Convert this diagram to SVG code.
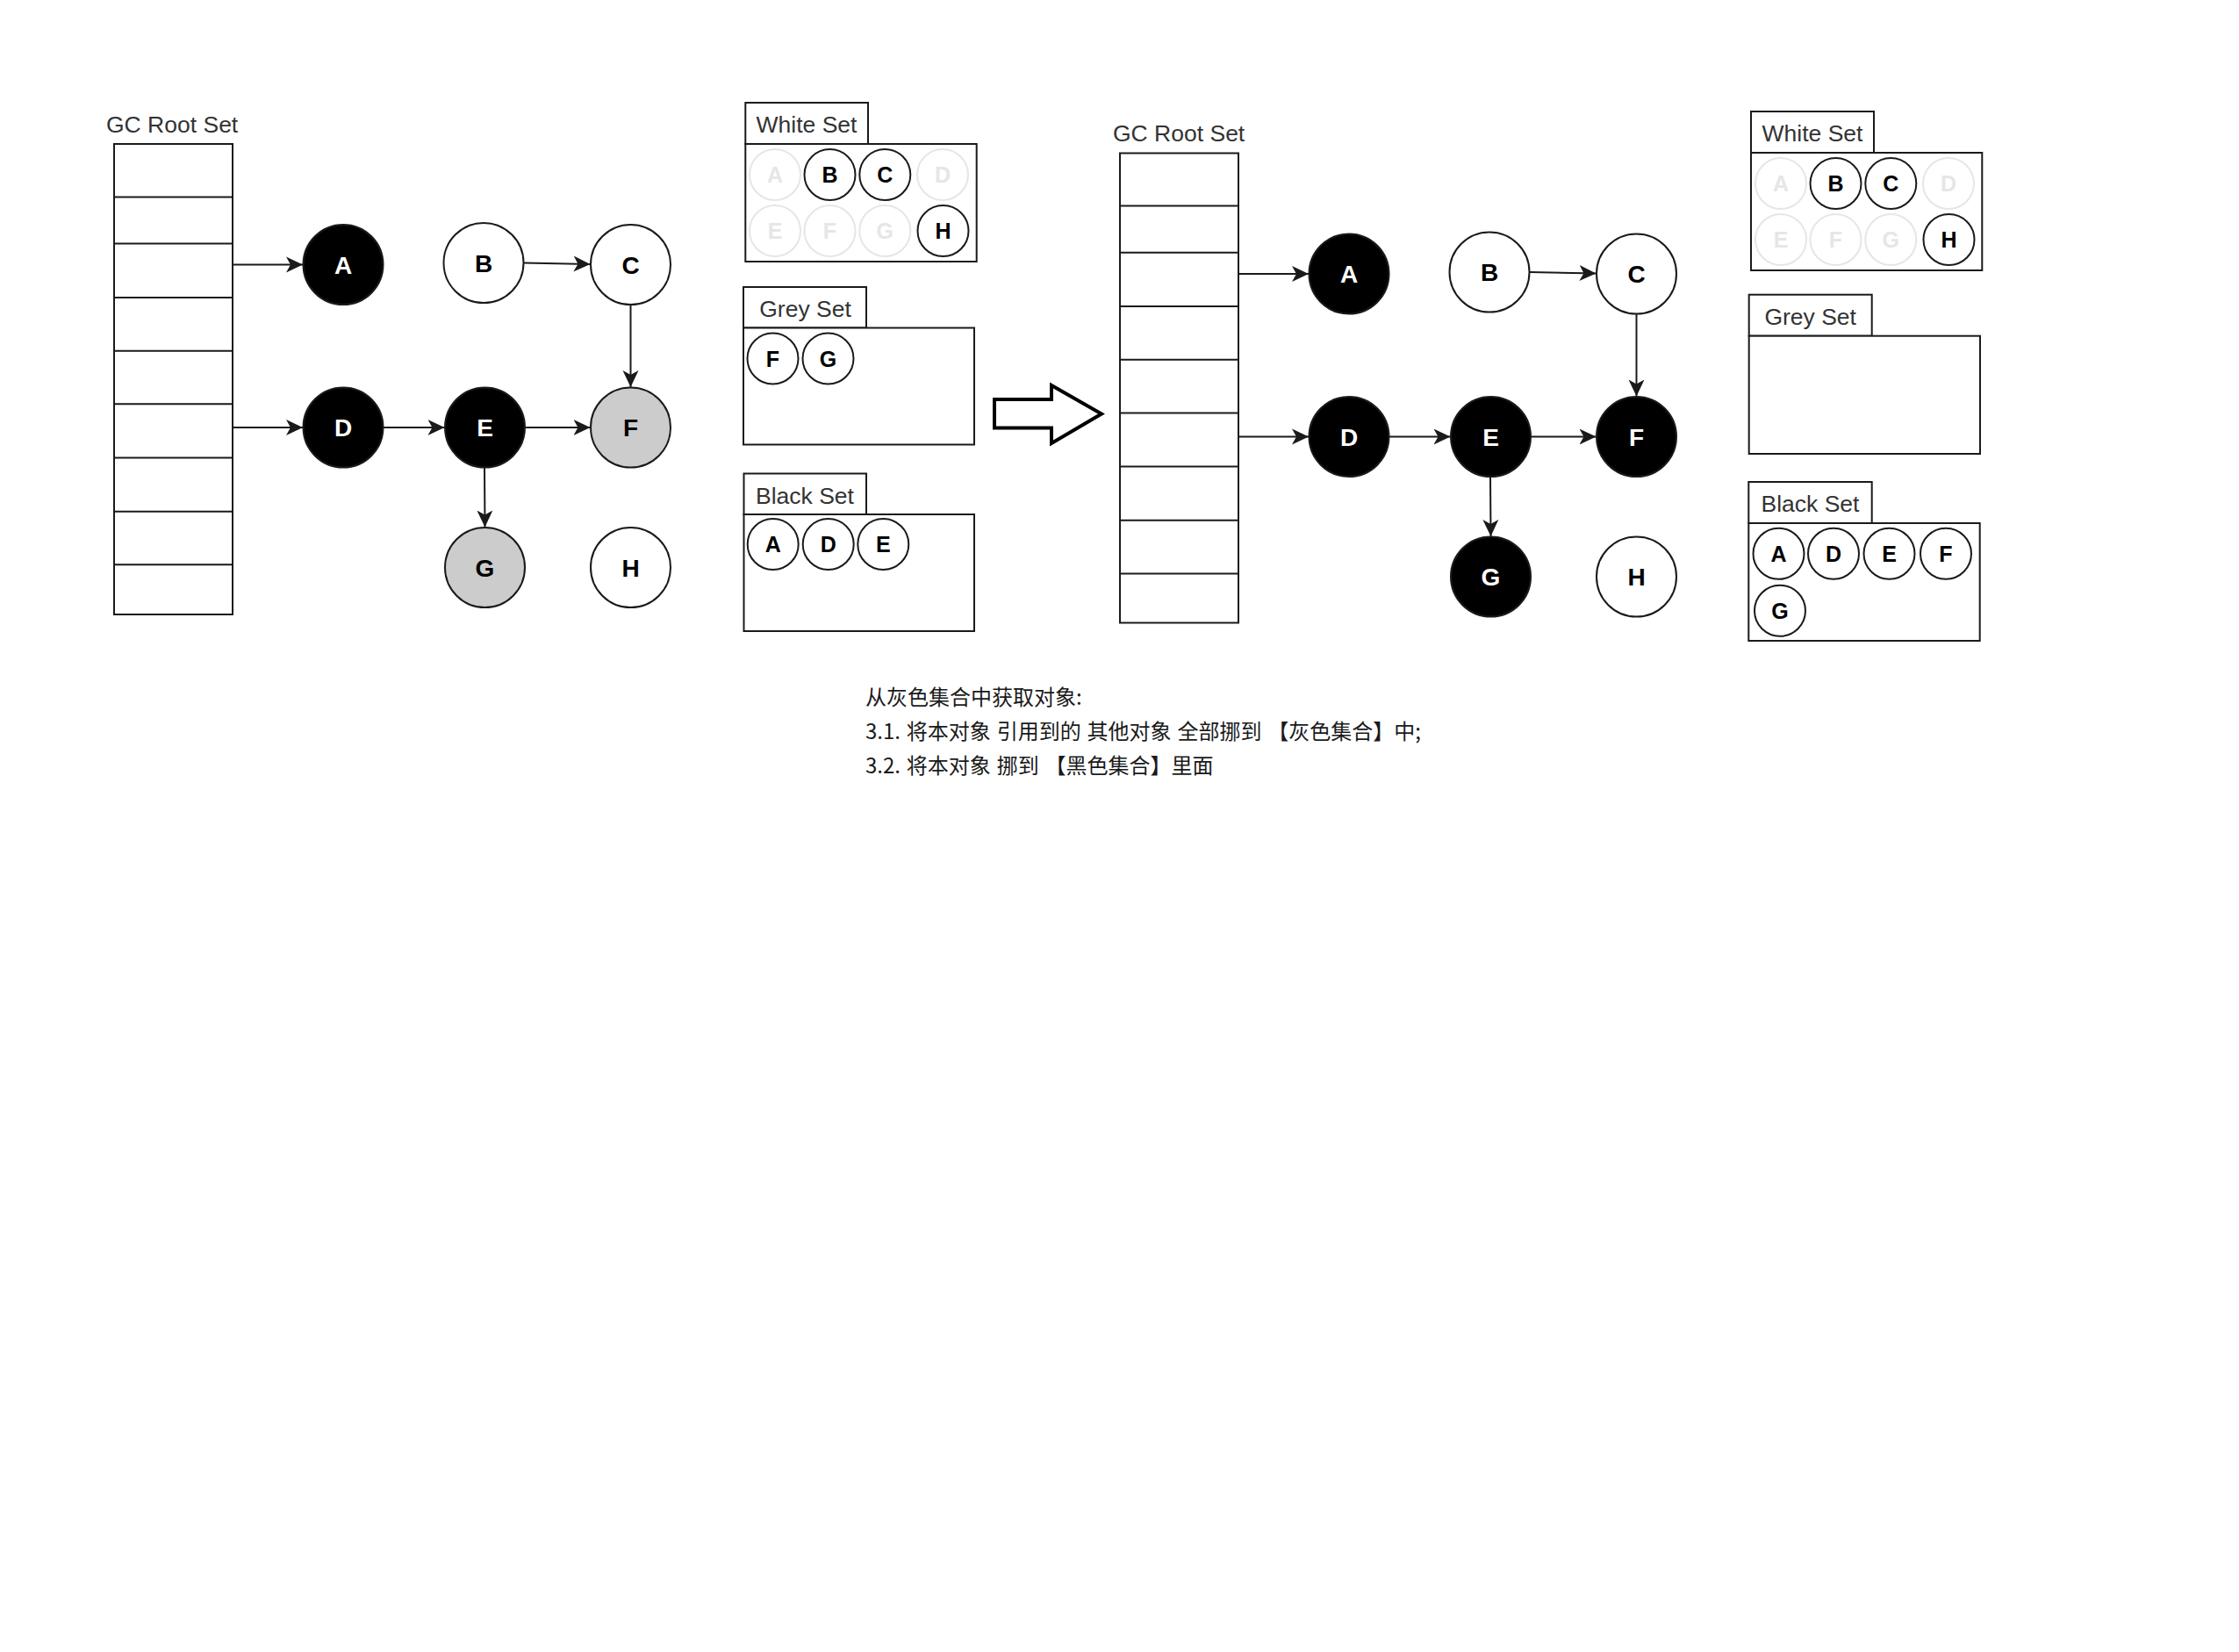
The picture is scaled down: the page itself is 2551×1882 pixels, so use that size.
<svg xmlns="http://www.w3.org/2000/svg" width="2551" height="1882" viewBox="0 0 2551 1882">
<style>
.bg{fill:#ffffff}
.box{fill:#ffffff;stroke:#1a1a1a;stroke-width:2}
.row{stroke:#1a1a1a;stroke-width:2}
.lbl{font-family:"Liberation Sans",Arial,sans-serif;font-size:26.5px;fill:#333333}
.tab{font-family:"Liberation Sans",Arial,sans-serif;font-size:26.5px;fill:#333333;text-anchor:middle}
.nb{fill:#000000;stroke:#1a1a1a;stroke-width:2}
.nw{fill:#ffffff;stroke:#1a1a1a;stroke-width:2}
.ng{fill:#cccccc;stroke:#1a1a1a;stroke-width:2}
.tn{font-family:"Liberation Sans",Arial,sans-serif;font-size:28px;font-weight:bold;text-anchor:middle}
.tw{fill:#ffffff}
.tk{fill:#000000}
.sc{fill:#ffffff;stroke:#1a1a1a;stroke-width:2}
.sf{fill:#ffffff;stroke:#e6e6e6;stroke-width:2}
.ts{font-family:"Liberation Sans",Arial,sans-serif;font-size:25px;font-weight:bold;text-anchor:middle;fill:#000000}
.tf{font-family:"Liberation Sans",Arial,sans-serif;font-size:25px;font-weight:bold;text-anchor:middle;fill:#e6e6e6}
.edge{stroke:#1a1a1a;stroke-width:2;fill:none;marker-end:url(#arr)}
.cn{font-family:"Noto Sans CJK SC","Noto Sans",sans-serif;font-size:24px;word-spacing:1.5px;fill:#1a1a1a}
</style>
<defs>
<marker id="arr" markerUnits="userSpaceOnUse" markerWidth="20" markerHeight="20" viewBox="0 0 20 20" refX="19" refY="10" orient="auto">
<path d="M0,1 L19,10 L0,19 L5,10 Z" fill="#1a1a1a"/>
</marker>
</defs>
<rect class="bg" x="0" y="0" width="2551" height="1882"/>

<!-- LEFT: GC root set -->
<g id="gc-root-left">
<text class="lbl" x="121" y="151">GC Root Set</text>
<rect class="box" x="130" y="164" width="135" height="536"/>
<path class="row" d="M130,224.6H265M130,277.6H265M130,338.9H265M130,399.7H265M130,460.2H265M130,521.5H265M130,582.8H265M130,643.3H265"/>
</g>

<g id="connectors-left">
<line class="edge" x1="265" y1="301.5" x2="345" y2="301.5"/>
<line class="edge" x1="265" y1="487" x2="345" y2="487"/>
<line class="edge" x1="597" y1="299.5" x2="672.5" y2="301"/>
<line class="edge" x1="718.5" y1="347.5" x2="718.5" y2="441"/>
<line class="edge" x1="437" y1="487" x2="506.5" y2="487"/>
<line class="edge" x1="598.5" y1="487" x2="672.5" y2="487"/>
<line class="edge" x1="552" y1="533" x2="552.5" y2="600.5"/>
</g>

<g id="node-A-left"><circle class="nb" cx="391" cy="301.5" r="45.5"/><text class="tn tw" x="391" y="311.5">A</text></g>
<g id="node-B-left"><circle class="nw" cx="551" cy="299.5" r="45.5"/><text class="tn tk" x="551" y="309.5">B</text></g>
<g id="node-C-left"><circle class="nw" cx="718.5" cy="301.5" r="45.5"/><text class="tn tk" x="718.5" y="311.5">C</text></g>
<g id="node-D-left"><circle class="nb" cx="391" cy="487" r="45.5"/><text class="tn tw" x="391" y="497">D</text></g>
<g id="node-E-left"><circle class="nb" cx="552.5" cy="487" r="45.5"/><text class="tn tw" x="552.5" y="497">E</text></g>
<g id="node-F-left"><circle class="ng" cx="718.5" cy="487" r="45.5"/><text class="tn tk" x="718.5" y="497">F</text></g>
<g id="node-G-left"><circle class="ng" cx="552.5" cy="646.5" r="45.5"/><text class="tn tk" x="552.5" y="656.5">G</text></g>
<g id="node-H-left"><circle class="nw" cx="718.5" cy="646.5" r="45.5"/><text class="tn tk" x="718.5" y="656.5">H</text></g>

<!-- LEFT sets -->
<g id="white-set-left">
<rect class="box" x="849.3" y="117" width="139.7" height="47"/>
<text class="tab" x="919" y="151.3">White Set</text>
<rect class="box" x="849.3" y="164" width="263.4" height="134"/>
<circle class="sf" cx="883" cy="199" r="29"/><text class="tf" x="883" y="208">A</text>
<circle class="sc" cx="945.5" cy="199" r="29"/><text class="ts" x="945.5" y="208">B</text>
<circle class="sc" cx="1008.3" cy="199" r="29"/><text class="ts" x="1008.3" y="208">C</text>
<circle class="sf" cx="1074" cy="199" r="29"/><text class="tf" x="1074" y="208">D</text>
<circle class="sf" cx="883" cy="263" r="29"/><text class="tf" x="883" y="272">E</text>
<circle class="sf" cx="945.5" cy="263" r="29"/><text class="tf" x="945.5" y="272">F</text>
<circle class="sf" cx="1008.3" cy="263" r="29"/><text class="tf" x="1008.3" y="272">G</text>
<circle class="sc" cx="1074.5" cy="263" r="29"/><text class="ts" x="1074.5" y="272">H</text>
</g>

<g id="grey-set-left">
<rect class="box" x="847" y="327" width="140" height="46.5"/>
<text class="tab" x="917.5" y="361">Grey Set</text>
<rect class="box" x="847" y="373.5" width="263" height="133"/>
<circle class="sc" cx="880.5" cy="408.5" r="29"/><text class="ts" x="880.5" y="417.5">F</text>
<circle class="sc" cx="943.5" cy="408.5" r="29"/><text class="ts" x="943.5" y="417.5">G</text>
</g>

<g id="black-set-left">
<rect class="box" x="847.5" y="539.5" width="139.5" height="46.5"/>
<text class="tab" x="917" y="573.5">Black Set</text>
<rect class="box" x="847.5" y="586" width="262.5" height="133"/>
<circle class="sc" cx="880.7" cy="620" r="29"/><text class="ts" x="880.7" y="629">A</text>
<circle class="sc" cx="943.7" cy="620" r="29"/><text class="ts" x="943.7" y="629">D</text>
<circle class="sc" cx="1006.3" cy="620" r="29"/><text class="ts" x="1006.3" y="629">E</text>
</g>

<!-- transition arrow -->
<g id="transition-arrow">
<polygon points="1133,455 1198,455 1198,439 1255,471.5 1198,505 1198,487.5 1133,487.5" fill="#ffffff" stroke="#000000" stroke-width="4" stroke-linejoin="miter"/>
</g>

<!-- RIGHT: GC root set -->
<g id="gc-root-right">
<text class="lbl" x="1268" y="161">GC Root Set</text>
<rect class="box" x="1276" y="174.5" width="135" height="535"/>
<path class="row" d="M1276,234.4H1411M1276,287.8H1411M1276,349H1411M1276,409.8H1411M1276,470.4H1411M1276,531.6H1411M1276,592.8H1411M1276,653.6H1411"/>
</g>

<g id="connectors-right">
<line class="edge" x1="1411" y1="312" x2="1491" y2="312"/>
<line class="edge" x1="1411" y1="497.5" x2="1491" y2="497.5"/>
<line class="edge" x1="1743" y1="310" x2="1818.5" y2="311.5"/>
<line class="edge" x1="1864.5" y1="358" x2="1864.5" y2="451.5"/>
<line class="edge" x1="1583" y1="497.5" x2="1652.5" y2="497.5"/>
<line class="edge" x1="1744.5" y1="497.5" x2="1818.5" y2="497.5"/>
<line class="edge" x1="1698" y1="543.5" x2="1698.5" y2="611"/>
</g>

<g id="node-A-right"><circle class="nb" cx="1537" cy="312" r="45.5"/><text class="tn tw" x="1537" y="322">A</text></g>
<g id="node-B-right"><circle class="nw" cx="1697" cy="310" r="45.5"/><text class="tn tk" x="1697" y="320">B</text></g>
<g id="node-C-right"><circle class="nw" cx="1864.5" cy="312" r="45.5"/><text class="tn tk" x="1864.5" y="322">C</text></g>
<g id="node-D-right"><circle class="nb" cx="1537" cy="497.5" r="45.5"/><text class="tn tw" x="1537" y="507.5">D</text></g>
<g id="node-E-right"><circle class="nb" cx="1698.5" cy="497.5" r="45.5"/><text class="tn tw" x="1698.5" y="507.5">E</text></g>
<g id="node-F-right"><circle class="nb" cx="1864.5" cy="497.5" r="45.5"/><text class="tn tw" x="1864.5" y="507.5">F</text></g>
<g id="node-G-right"><circle class="nb" cx="1698.5" cy="657" r="45.5"/><text class="tn tw" x="1698.5" y="667">G</text></g>
<g id="node-H-right"><circle class="nw" cx="1864.5" cy="657" r="45.5"/><text class="tn tk" x="1864.5" y="667">H</text></g>

<!-- RIGHT sets -->
<g id="white-set-right">
<rect class="box" x="1995" y="127" width="140" height="47"/>
<text class="tab" x="2065" y="161.3">White Set</text>
<rect class="box" x="1995" y="174" width="263.3" height="134"/>
<circle class="sf" cx="2029" cy="209" r="29"/><text class="tf" x="2029" y="218">A</text>
<circle class="sc" cx="2091.5" cy="209" r="29"/><text class="ts" x="2091.5" y="218">B</text>
<circle class="sc" cx="2154.3" cy="209" r="29"/><text class="ts" x="2154.3" y="218">C</text>
<circle class="sf" cx="2220" cy="209" r="29"/><text class="tf" x="2220" y="218">D</text>
<circle class="sf" cx="2029" cy="273" r="29"/><text class="tf" x="2029" y="282">E</text>
<circle class="sf" cx="2091.5" cy="273" r="29"/><text class="tf" x="2091.5" y="282">F</text>
<circle class="sf" cx="2154.3" cy="273" r="29"/><text class="tf" x="2154.3" y="282">G</text>
<circle class="sc" cx="2220.5" cy="273" r="29"/><text class="ts" x="2220.5" y="282">H</text>
</g>

<g id="grey-set-right">
<rect class="box" x="1992.7" y="335.7" width="140" height="47"/>
<text class="tab" x="2062.7" y="370">Grey Set</text>
<rect class="box" x="1992.7" y="382.7" width="263.3" height="134.3"/>
</g>

<g id="black-set-right">
<rect class="box" x="1992.3" y="549" width="140.4" height="47"/>
<text class="tab" x="2062.5" y="583">Black Set</text>
<rect class="box" x="1992.3" y="596" width="263.4" height="134"/>
<circle class="sc" cx="2026.5" cy="630.8" r="29"/><text class="ts" x="2026.5" y="639.8">A</text>
<circle class="sc" cx="2089" cy="630.8" r="29"/><text class="ts" x="2089" y="639.8">D</text>
<circle class="sc" cx="2152.5" cy="630.8" r="29"/><text class="ts" x="2152.5" y="639.8">E</text>
<circle class="sc" cx="2217" cy="630.8" r="29"/><text class="ts" x="2217" y="639.8">F</text>
<circle class="sc" cx="2028" cy="695.8" r="29"/><text class="ts" x="2028" y="704.8">G</text>
</g>

<!-- note -->
<g id="note">
<text class="cn" x="986" y="803">从灰色集合中获取对象:</text>
<text class="cn" x="986" y="842">3.1. 将本对象 引用到的 其他对象 全部挪到 【灰色集合】中;</text>
<text class="cn" x="986" y="881">3.2. 将本对象 挪到 【黑色集合】里面</text>
</g>
</svg>
